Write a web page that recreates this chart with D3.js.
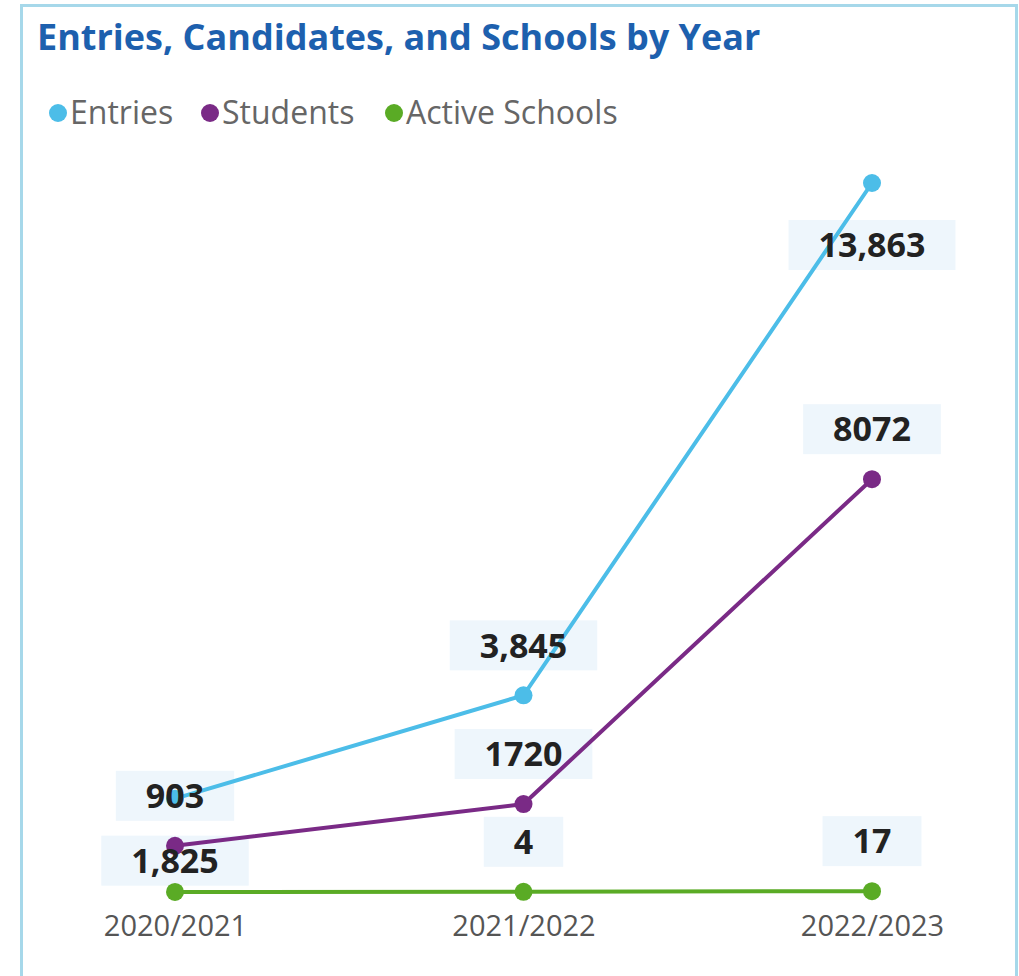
<!DOCTYPE html>
<html>
<head>
<meta charset="utf-8">
<script src="https://cdn.jsdelivr.net/npm/d3@7"></script>
<style>
  body { margin: 0; background: #fff; }
  svg { display: block; font-family: "Open Sans", "Noto Sans", sans-serif; }
</style>
</head>
<body>
<svg id="chart" width="1019" height="976"></svg>
<script>
const years = ['2020/2021', '2021/2022', '2022/2023']
const entries = [1825, 3845, 13863]
const students = [903, 1720, 8072]
const schools = [1, 4, 17]

const seriesNames = ['Entries', 'Students', 'Active Schools']
const seriesColors = ['#4cbde8', '#7a2a86', '#5aab25']

// entries labels use thousands separators, the others do not
const formats = [d3.format(','), d3.format('d'), d3.format('d')]

const svg = d3.select('#chart')
const width = 1019, height = 976

// frame
svg.append('path')
    .attr('d', `M21.5,${height} V5.5 H1016.5 V${height}`)
    .attr('fill', 'none')
    .attr('stroke', '#a6d8ea')
    .attr('stroke-width', 3)

svg.append('text')
    .attr('x', 37).attr('y', 50)
    .attr('font-size', 36).attr('font-weight', 700)
    .attr('fill', '#1d60ae')
    .text('Entries, Candidates, and Schools by Year')

// legend
const legendX = [58, 210, 394]
const legend = svg.append('g')
seriesNames.forEach((name, i) => {
    legend.append('circle').attr('cx', legendX[i]).attr('cy', 113).attr('r', 9).attr('fill', seriesColors[i])
    legend.append('text')
        .attr('x', legendX[i] + 12).attr('y', 124)
        .attr('font-size', 32).attr('fill', '#666')
        .text(name)
})

const scaleX = d3.scalePoint().domain(years).range([175, 872])
const scaleY = d3.scaleLinear().domain([0, d3.max(entries)]).range([892, 183])

const axisX = d3.axisBottom(scaleX).tickSize(0).tickPadding(0)
svg.append('g')
    .attr('id', 'x_axis')
    .attr('transform', 'translate(0, 913)')
    .call(axisX)
    .call(g => g.select('.domain').remove())
    .selectAll('text')
    .attr('dy', '0.8em')
    .attr('font-size', 29)
    .attr('font-family', '"Open Sans", sans-serif')
    .attr('fill', '#555')

const series = [entries, students, schools].map((vals, s) =>
    vals.map((v, i) => ({ s, i, year: years[i], value: v })))

const lineGenerator = d3.line().x(d => scaleX(d.year)).y(d => scaleY(d.value))

const plot = svg.append('g')
const boxG = plot.append('g')
const lines = plot.append('g')
const labelG = plot.append('g')

const below = new Set(['0-0', '0-2'])
const hidden = new Set(['2-0'])
const labels = series.flat().filter(d => !hidden.has(`${d.s}-${d.i}`))

labels.forEach(d => {
    const cx = scaleX(d.year)
    const cy = scaleY(d.value) + (below.has(`${d.s}-${d.i}`) ? 62 : -50)
    const t = labelG.append('text')
        .attr('x', cx).attr('y', cy)
        .attr('text-anchor', 'middle').attr('dy', '0.36em')
        .attr('font-size', 34).attr('font-weight', 700)
        .attr('fill', '#222')
        .text(formats[d.s](d.value))
    const bb = t.node().getBBox()
    boxG.append('rect')
        .attr('x', bb.x - 30).attr('y', cy - 25)
        .attr('width', bb.width + 60).attr('height', 50)
        .attr('fill', '#eef6fc')
})

series.forEach((pts, s) => {
    lines.append('path')
        .attr('d', lineGenerator(pts))
        .attr('fill', 'none')
        .attr('stroke', seriesColors[s])
        .attr('stroke-width', 4)
    lines.selectAll(null).data(pts).join('circle')
        .attr('cx', d => scaleX(d.year))
        .attr('cy', d => scaleY(d.value))
        .attr('r', 9)
        .attr('fill', seriesColors[s])
})
</script>
</body>
</html>
